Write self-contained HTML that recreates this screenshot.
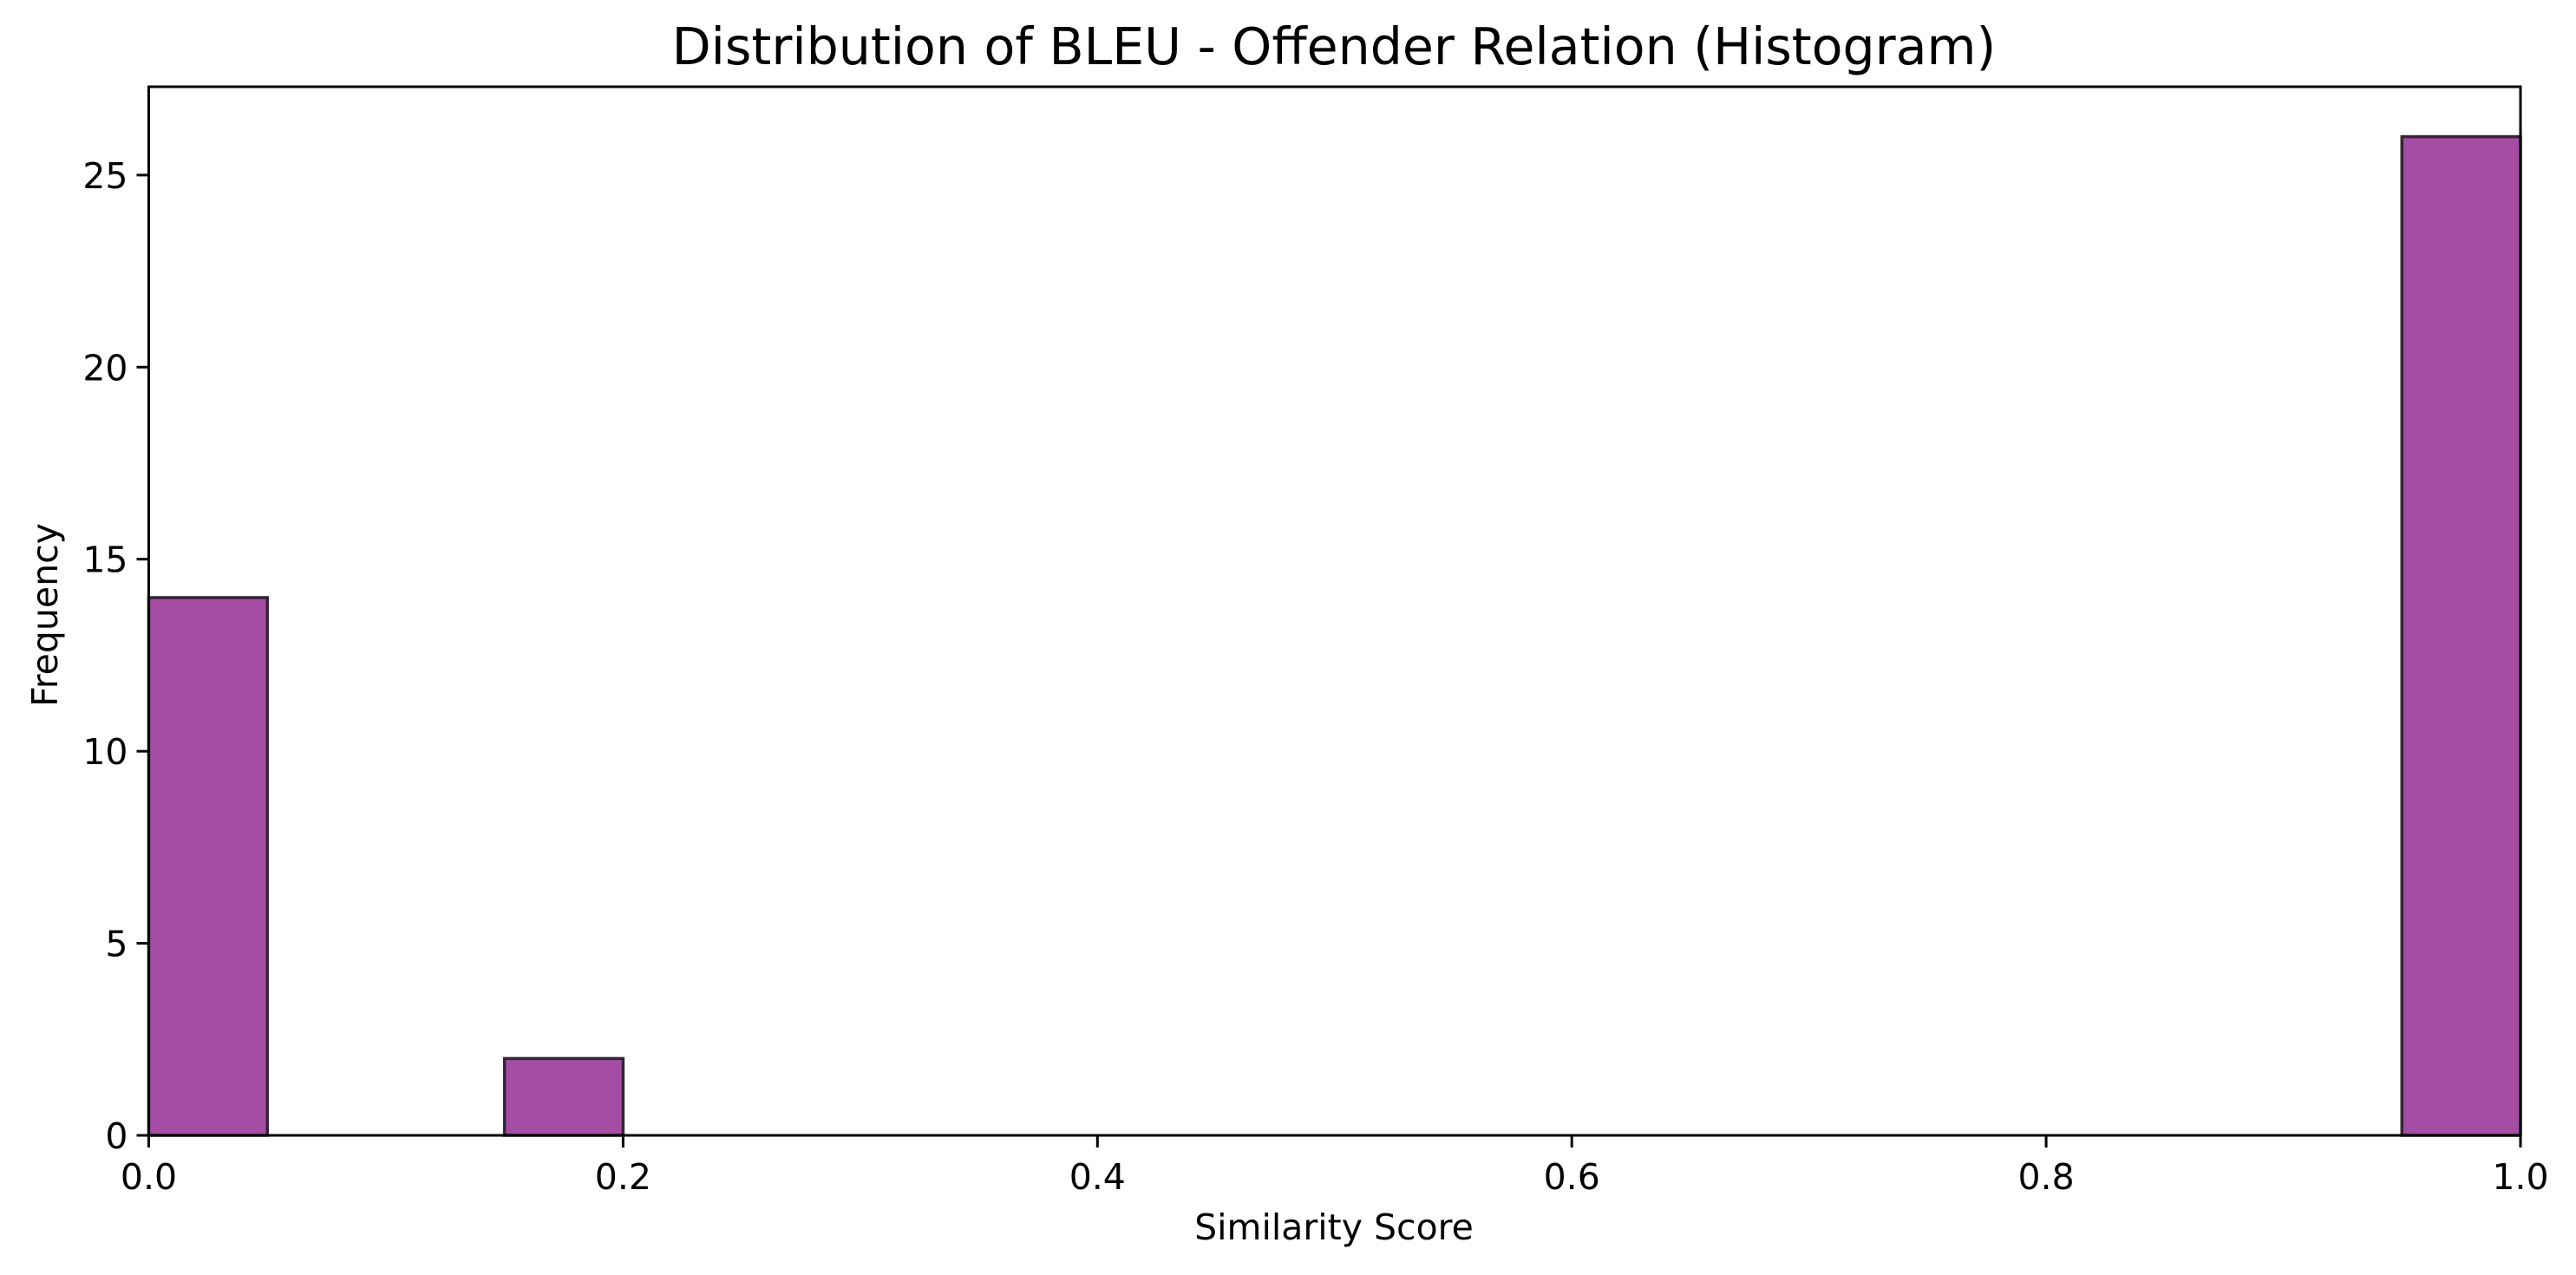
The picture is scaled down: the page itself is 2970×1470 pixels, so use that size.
<!DOCTYPE html>
<html><head><meta charset="utf-8"><style>
html,body{margin:0;padding:0;background:#fff;}
svg{display:block;font-family:"DejaVu Sans","Liberation Sans",sans-serif;}
</style></head><body>
<svg id="chart" width="2970" height="1470" viewBox="0 0 2970 1470">
<rect x="0" y="0" width="2970" height="1470" fill="#fff"/>
<text x="1538" y="74" font-size="58.5" text-anchor="middle" fill="#000">Distribution of BLEU - Offender Relation (Histogram)</text>
<g id="bars"></g>
<g id="axes"></g>
<text x="1538" y="1429" font-size="41" text-anchor="middle" fill="#000">Similarity Score</text>
<text x="0" y="0" font-size="41" text-anchor="middle" fill="#000" transform="translate(66,709) rotate(-90)">Frequency</text>
</svg>
<script>
const binStarts = [0.00,0.05,0.10,0.15,0.20,0.25,0.30,0.35,0.40,0.45,0.50,0.55,0.60,0.65,0.70,0.75,0.80,0.85,0.90,0.95];
const binCounts = [14,0,0,2,0,0,0,0,0,0,0,0,0,0,0,0,0,0,0,26];
const binWidth = 0.05;
const xTicks = [0.0,0.2,0.4,0.6,0.8,1.0];
const xTickLabels = ["0.0","0.2","0.4","0.6","0.8","1.0"];
const yTicks = [0,5,10,15,20,25];
const yTickLabels = ["0","5","10","15","20","25"];
const X0=171.5, X1=2906, Y0=1309, Y1=100, YMAX=27.3;
const xs = v => X0 + v*(X1-X0);
const ys = v => Y0 - v/YMAX*(Y0-Y1);
const NS="http://www.w3.org/2000/svg";
const bars=document.getElementById('bars'), axes=document.getElementById('axes');
function mk(tag,attrs,parent){const e=document.createElementNS(NS,tag);for(const k in attrs)e.setAttribute(k,attrs[k]);parent.appendChild(e);return e;}
binCounts.forEach((c,i)=>{
  if(c<=0) return;
  const r=mk('rect',{x:xs(binStarts[i]),y:ys(c),width:xs(binStarts[i]+binWidth)-xs(binStarts[i]),height:Y0-ys(c),fill:'#a54da5',stroke:'#352535','stroke-width':3.5},bars);
  
  
});
const frame=mk('rect',{x:X0,y:Y1,width:X1-X0,height:Y0-Y1,fill:'none',stroke:'#000','stroke-width':3},axes);


xTicks.forEach((v,i)=>{
  mk('line',{x1:xs(v),x2:xs(v),y1:Y0,y2:Y0+14,stroke:'#000','stroke-width':3},axes);
  const t=mk('text',{x:xs(v),y:Y0+62,'font-size':41,'text-anchor':'middle',fill:'#000'},axes);
  t.textContent=xTickLabels[i];
  
  
});
yTicks.forEach((v,i)=>{
  mk('line',{x1:X0-14,x2:X0,y1:ys(v),y2:ys(v),stroke:'#000','stroke-width':3},axes);
  const t=mk('text',{x:X0-24,y:ys(v)+15,'font-size':41,'text-anchor':'end',fill:'#000'},axes);
  t.textContent=yTickLabels[i];
  
  
});
</script>
</body></html>
